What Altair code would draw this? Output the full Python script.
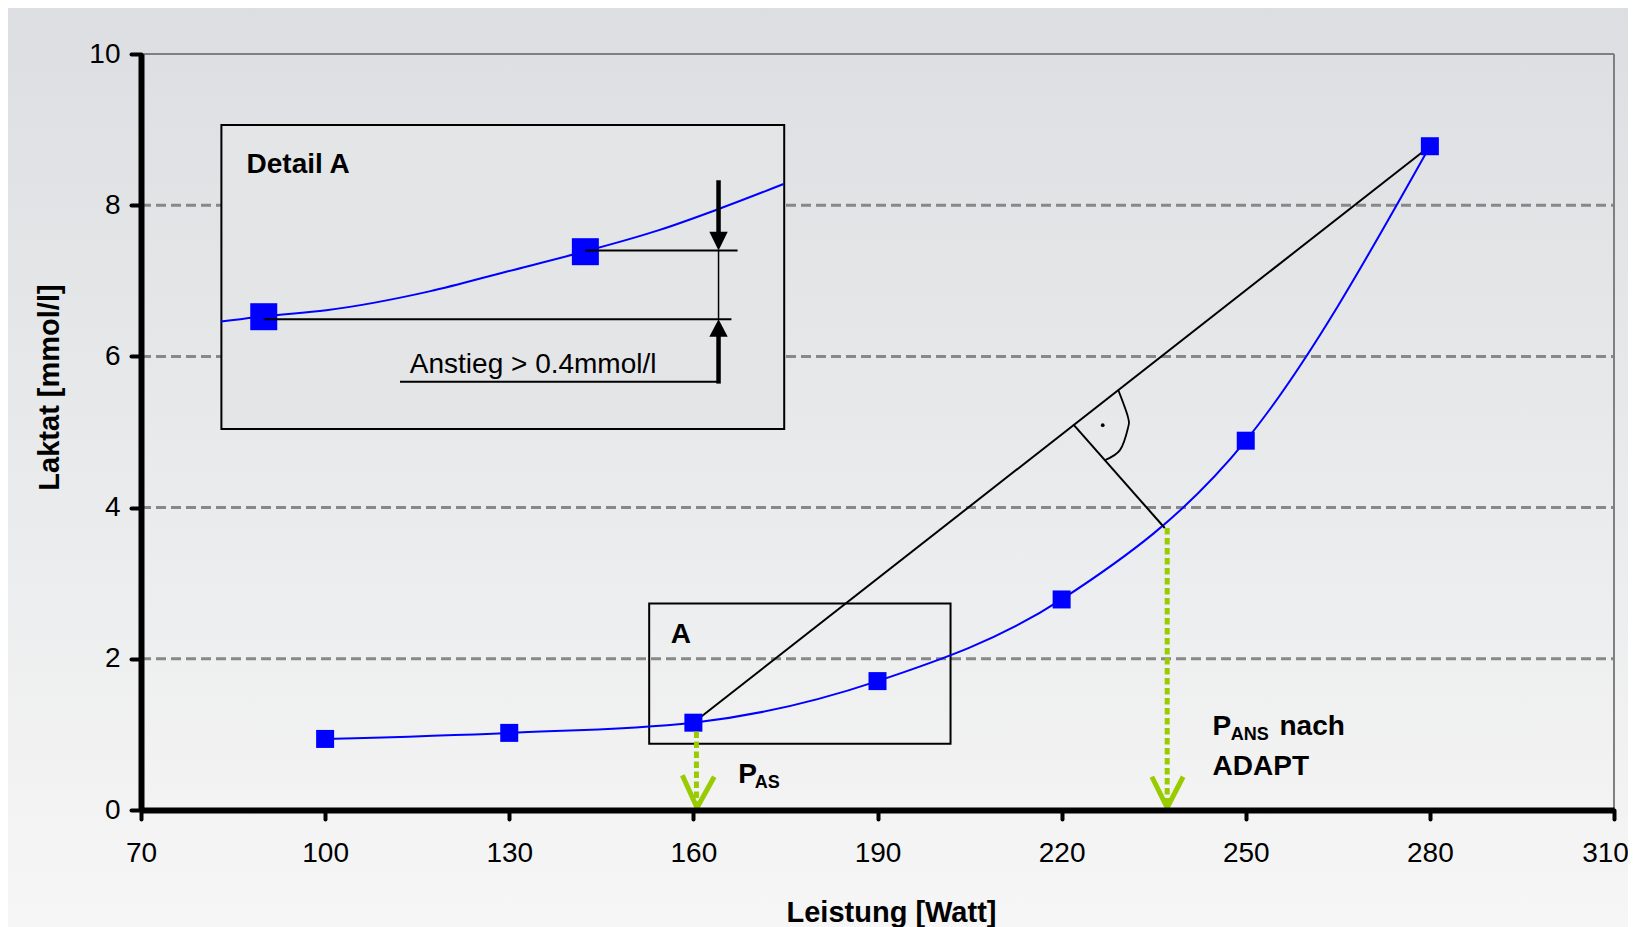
import altair as alt
import pandas as pd

# ---------------- data ----------------
watt = [100, 130, 160, 190, 220, 250, 280]
laktat = [0.94, 1.02, 1.155, 1.705, 2.785, 4.885, 8.78]

x_ticks = [70, 100, 130, 160, 190, 220, 250, 280, 310]
y_ticks = [0, 2, 4, 6, 8, 10]
grid_levels = [2, 4, 6, 8]

# ADAPT construction: line first->last stage, perpendicular to the curve
adapt_x = [160, 280]
adapt_y = [1.155, 8.78]
perp_x = [221.9, 236.8]
perp_y = [5.10, 3.73]
arc_x = [229.2, 230.8, 230.8, 229.5, 227.1]
arc_y = [5.56, 5.20, 5.05, 4.76, 4.63]
arc_dot_x = [226.7]
arc_dot_y = [5.09]

# thresholds (green dotted arrows)
thr_x = [160.5, 237.2]
thr_top = [1.04, 3.73]
chev_x = [158.2, 160.6, 163.4, 234.7, 237.2, 239.8]
chev_y = [0.46, 0.03, 0.44, 0.44, 0.03, 0.44]
chev_id = [0, 0, 0, 1, 1, 1]

# box "A"
boxA_x = [152.8]
boxA_x2 = [201.9]
boxA_y = [0.875]
boxA_y2 = [2.73]

# inset "Detail A"
inset_x = [83.1]
inset_x2 = [174.8]
inset_y = [5.04]
inset_y2 = [9.06]
inset_curve_x = [83.0, 90.0, 100.2, 117.0, 129.5, 142.4, 154.4, 163.8, 174.7]
inset_curve_y = [6.46, 6.53, 6.61, 6.86, 7.12, 7.39, 7.67, 7.94, 8.28]
inset_pts_x = [90.0, 142.4]
inset_pts_y = [6.525, 7.385]
dim_h_x = [90.0, 142.4, 112.2]
dim_h_x2 = [166.2, 167.2, 164.1]
dim_h_y = [6.49, 7.40, 5.665]
dim_x = 164.1
dim_thin_y = [6.49]
dim_thin_y2 = [7.40]
dim_thick_y = [8.33, 5.64]
dim_thick_y2 = [7.62, 6.28]
head_x = [162.6, 164.1, 165.6, 162.6, 164.1, 165.6]
head_y = [7.65, 7.40, 7.65, 6.26, 6.49, 6.26]
head_y2 = [7.65, 7.65, 7.65, 6.26, 6.26, 6.26]
head_id = [0, 0, 0, 1, 1, 1]

# labels
big_txt = ["A", "Detail A", "P", "P", "nach", "ADAPT"]
big_x = [156.3, 87.2, 167.3, 244.6, 255.5, 244.6]
big_y = [2.205, 8.42, 0.36, 0.99, 0.99, 0.463]
sub_txt = ["AS", "ANS"]
sub_x = [170.0, 247.55]
sub_y = [0.287, 0.926]
note_txt = ["Anstieg > 0.4mmol/l"]
note_x = [113.8]
note_y = [5.776]

# ---------------- chart ----------------
W, H = 1473, 756
PAD = {"left": 133, "top": 46, "right": 14, "bottom": 117}
FONT = "Liberation Sans"
BLUE = "#0000ff"
GREEN = "#99cc00"

xs = alt.Scale(domain=[70, 310], nice=False, zero=False)
ys = alt.Scale(domain=[0, 10], nice=False, zero=False)

x_axis = alt.Axis(
    values=x_ticks, title="Leistung [Watt]", grid=False, zindex=1,
    domainColor="black", domainWidth=6, tickColor="black", tickWidth=4,
    tickSize=9, tickCap="round", labelFont=FONT, labelFontSize=28,
    labelColor="black", labelPadding=42, labelBaseline="alphabetic",
    labelFlush=False, labelOverlap=False,
    labelOffset={"condition": {"test": "datum.value >= 310", "value": -9}, "value": 0},
    titleFont=FONT, titleFontSize=29, titleFontWeight="bold", titleColor="black",
    titleX=750, titleY=111, titleAlign="center", titleBaseline="alphabetic",
)
y_axis = alt.Axis(
    values=y_ticks, title="Laktat [mmol/l]", grid=False, zindex=1,
    domainColor="black", domainWidth=6, tickColor="black", tickWidth=4,
    tickSize=10, tickCap="round", labelFont=FONT, labelFontSize=28,
    labelColor="black", labelPadding=11, labelBaseline="middle",
    labelFlush=False, labelOverlap=False,
    titleFont=FONT, titleFontSize=29, titleFontWeight="bold", titleColor="black",
    titleAngle=270, titleX=-83, titleY=333, titleAlign="center",
    titleBaseline="alphabetic",
)


def X(f="x"):
    return alt.X(f, type="quantitative", scale=xs, axis=x_axis)


def Y(f="y"):
    return alt.Y(f, type="quantitative", scale=ys, axis=y_axis)


bg = alt.Chart(pd.DataFrame({"k": [0]})).mark_rect(
    color=alt.LinearGradient(
        gradient="linear", x1=0, x2=0, y1=0, y2=1,
        stops=[alt.GradientStop(color="#dcdee1", offset=0),
               alt.GradientStop(color="#f6f6f6", offset=1)],
    )
).encode(
    x=alt.value(-PAD["left"]), x2=alt.value(W + PAD["right"]),
    y=alt.value(-PAD["top"]), y2=alt.value(H + PAD["bottom"]),
)

grid = alt.Chart(pd.DataFrame({"y": grid_levels, "x": [70] * 4, "x2": [310] * 4})).mark_rule(
    color="#888888", strokeWidth=3, strokeDash=[10, 5]
).encode(x=X(), x2="x2", y=Y())

frame = alt.Chart(pd.DataFrame({"x": [70, 310], "x2": [310, 310], "y": [10, 0], "y2": [10, 10]})).mark_rule(
    color="#808080", strokeWidth=2
).encode(x=X(), x2="x2", y=Y(), y2="y2")

box_a = alt.Chart(pd.DataFrame({"x": boxA_x, "x2": boxA_x2, "y": boxA_y, "y2": boxA_y2})).mark_rect(
    fillOpacity=0, stroke="black", strokeWidth=2
).encode(x=X(), x2="x2", y=Y(), y2="y2")

main_df = pd.DataFrame({"x": watt, "y": laktat})
curve = alt.Chart(main_df).mark_line(color=BLUE, strokeWidth=2, interpolate="monotone").encode(x=X(), y=Y())
squares = alt.Chart(main_df).mark_square(color=BLUE, filled=True, size=324, opacity=1).encode(x=X(), y=Y())

constr = alt.Chart(pd.DataFrame({
    "x": [adapt_x[0], perp_x[0]], "x2": [adapt_x[1], perp_x[1]],
    "y": [adapt_y[0], perp_y[0]], "y2": [adapt_y[1], perp_y[1]],
})).mark_rule(color="black", strokeWidth=2).encode(x=X(), x2="x2", y=Y(), y2="y2")

arc = alt.Chart(pd.DataFrame({"x": arc_x, "y": arc_y, "i": list(range(len(arc_x)))})).mark_line(
    color="black", strokeWidth=1.8, interpolate="cardinal"
).encode(x=X(), y=Y(), order="i:Q")
dot = alt.Chart(pd.DataFrame({"x": arc_dot_x, "y": arc_dot_y})).mark_point(
    filled=True, color="black", size=14, opacity=1
).encode(x=X(), y=Y())

thr = alt.Chart(pd.DataFrame({"x": thr_x, "y": thr_top, "y2": [0.05, 0.05]})).mark_rule(
    color=GREEN, strokeWidth=5, strokeDash=[6.5, 3.5]
).encode(x=X(), y=Y(), y2="y2")
chev = alt.Chart(pd.DataFrame({"x": chev_x, "y": chev_y, "g": chev_id, "i": list(range(6))})).mark_line(
    color=GREEN, strokeWidth=5, strokeJoin="miter", strokeMiterLimit=10
).encode(x=X(), y=Y(), detail="g:N", order="i:Q")

inset_box = alt.Chart(pd.DataFrame({"x": inset_x, "x2": inset_x2, "y": inset_y, "y2": inset_y2})).mark_rect(
    fill="#e4e5e7", stroke="black", strokeWidth=2
).encode(x=X(), x2="x2", y=Y(), y2="y2")
inset_curve = alt.Chart(pd.DataFrame({"x": inset_curve_x, "y": inset_curve_y})).mark_line(
    color=BLUE, strokeWidth=2, interpolate="monotone"
).encode(x=X(), y=Y())
inset_pts = alt.Chart(pd.DataFrame({"x": inset_pts_x, "y": inset_pts_y})).mark_square(
    color=BLUE, filled=True, size=729, opacity=1
).encode(x=X(), y=Y())
dim_h = alt.Chart(pd.DataFrame({"x": dim_h_x, "x2": dim_h_x2, "y": dim_h_y})).mark_rule(
    color="black", strokeWidth=2
).encode(x=X(), x2="x2", y=Y())
dim_thin = alt.Chart(pd.DataFrame({"x": [dim_x], "y": dim_thin_y, "y2": dim_thin_y2})).mark_rule(
    color="black", strokeWidth=1.5
).encode(x=X(), y=Y(), y2="y2")
dim_thick = alt.Chart(pd.DataFrame({"x": [dim_x] * 2, "y": dim_thick_y, "y2": dim_thick_y2})).mark_rule(
    color="black", strokeWidth=4.5
).encode(x=X(), y=Y(), y2="y2")
heads = alt.Chart(pd.DataFrame({"x": head_x, "y": head_y, "y2": head_y2, "g": head_id})).mark_area(
    color="black", orient="vertical", opacity=1
).encode(x=X(), y=alt.Y("y", type="quantitative", scale=ys, axis=y_axis, stack=None), y2="y2", detail="g:N")

big = alt.Chart(pd.DataFrame({"x": big_x, "y": big_y, "t": big_txt})).mark_text(
    font=FONT, fontSize=28, fontWeight="bold", color="black", align="left", baseline="alphabetic"
).encode(x=X(), y=Y(), text="t:N")
sub = alt.Chart(pd.DataFrame({"x": sub_x, "y": sub_y, "t": sub_txt})).mark_text(
    font=FONT, fontSize=18, fontWeight="bold", color="black", align="left", baseline="alphabetic"
).encode(x=X(), y=Y(), text="t:N")
note = alt.Chart(pd.DataFrame({"x": note_x, "y": note_y, "t": note_txt})).mark_text(
    font=FONT, fontSize=28, color="black", align="left", baseline="alphabetic"
).encode(x=X(), y=Y(), text="t:N")

chart = alt.layer(
    bg, grid, frame, box_a, curve, constr, arc, dot, squares, thr, chev,
    inset_box, inset_curve, inset_pts, dim_h, dim_thin, dim_thick, heads,
    big, sub, note,
).properties(
    width=W, height=H,
    autosize=alt.AutoSizeParams(type="none"),
    padding=PAD,
    background="#eceded",
).configure_view(stroke=None)

chart.save("out.html", embed_options={"renderer": "svg", "actions": False})
